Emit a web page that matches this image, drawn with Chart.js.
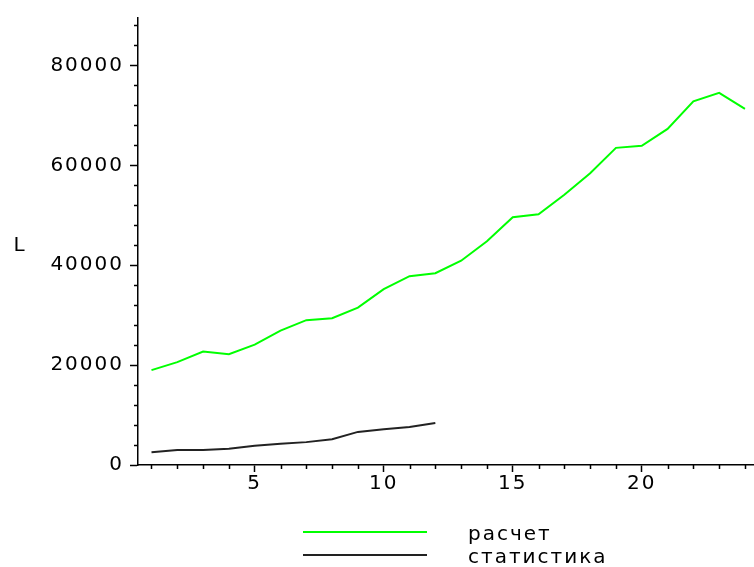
<!DOCTYPE html>
<html>
<head>
<meta charset="utf-8">
<script src="https://cdn.jsdelivr.net/npm/chart.js@4"></script>
<style>body{margin:0;background:#fff}</style>
</head>
<body>
<canvas id="grafico" width="754" height="567"></canvas>
<script>
// values
const periods = [1,2,3,4,5,6,7,8,9,10,11,12,13,14,15,16,17,18,19,20,21,22,23,24];
const calc = [19000,20600,22700,22200,24100,26900,29000,29400,31500,35200,37800,38400,
              40900,44800,49600,50200,54100,58400,63500,63900,67300,72800,74500,71300];
const stats = [2550,3000,3000,3250,3850,4250,4580,5150,6630,7160,7630,8420];
const seriesNames = ['расчет', 'статистика'];
const yTitle = 'L';
const yTicks = [0,4000,8000,12000,16000,20000,24000,28000,32000,36000,40000,44000,
                48000,52000,56000,60000,64000,68000,72000,76000,80000,84000,88000];

const fuente = '20px "DejaVu Sans"';

function toPoints(vals){
    return vals.map((v, i) => ({x: periods[i], y: v}));
}

const extras = {
    id: 'extras',
    beforeUpdate(chart){ chart.ctx.letterSpacing = '2px'; },
    beforeDraw(chart){ chart.ctx.letterSpacing = '2px'; },
    afterDraw(chart){
        const ctx = chart.ctx, area = chart.chartArea;
        const sx = chart.scales.x, sy = chart.scales.y;
        ctx.save();
        ctx.letterSpacing = '2px';
        /* minor ticks */
        ctx.strokeStyle = '#000';
        ctx.lineWidth = 1.5;
        ctx.beginPath();
        sx.ticks.forEach(t => {
            if (t.value % 5 !== 0) {
                const px = Math.round(sx.getPixelForValue(t.value)) + 0.5;
                ctx.moveTo(px, area.bottom);
                ctx.lineTo(px, area.bottom + 4);
            }
        });
        sy.ticks.forEach(t => {
            if (t.value % 20000 !== 0) {
                const py = Math.round(sy.getPixelForValue(t.value)) + 0.5;
                ctx.moveTo(area.left, py);
                ctx.lineTo(area.left - 4, py);
            }
        });
        ctx.stroke();
        /* y title, not rotated */
        ctx.font = fuente;
        ctx.fillStyle = '#000';
        ctx.textAlign = 'center';
        ctx.textBaseline = 'middle';
        ctx.fillText(yTitle, 20, (area.top + area.bottom) / 2 + 4);
        /* legend below, stacked */
        chart.data.datasets.forEach((ds, i) => {
            const ly = area.bottom + 67 + i * 23;
            ctx.strokeStyle = ds.borderColor;
            ctx.lineWidth = 2;
            ctx.beginPath();
            ctx.moveTo(303, ly);
            ctx.lineTo(427, ly);
            ctx.stroke();
            ctx.textAlign = 'left';
            ctx.fillText(ds.label, 468, ly + 3);
        });
        ctx.restore();
    }
};

new Chart(document.getElementById('grafico'), {
    type: 'line',
    data: {
        datasets: [{
            label: seriesNames[0],
            data: toPoints(calc),
            borderColor: '#00ff00',
            borderWidth: 2,
            pointRadius: 0,
            tension: 0
        }, {
            label: seriesNames[1],
            data: toPoints(stats),
            borderColor: '#222222',
            borderWidth: 2,
            pointRadius: 0,
            tension: 0
        }]
    },
    plugins: [extras],
    options: {
        responsive: false,
        animation: false,
        layout: {
            padding: {left: 0, top: 15, right: 0, bottom: 72}
        },
        plugins: {
            legend: {display: false},
            tooltip: {enabled: false}
        },
        scales: {
            x: {
                type: 'linear',
                min: 0.477,
                max: 24.35,
                afterFit: s => { s.height = 30; },
                afterBuildTicks: s => { s.ticks = periods.map(v => ({value: v})); },
                border: {color: '#000', width: 1.5},
                grid: {
                    drawOnChartArea: false,
                    tickLength: 7,
                    tickWidth: 1.5,
                    tickColor: c => (c.tick && c.tick.value % 5 === 0) ? '#000' : 'rgba(0,0,0,0)'
                },
                ticks: {
                    autoSkip: false,
                    maxRotation: 0,
                    padding: 0,
                    color: '#000',
                    font: {family: 'DejaVu Sans', size: 20},
                    callback: v => (v % 5 === 0) ? String(v) : ''
                }
            },
            y: {
                min: 0,
                max: 89500,
                afterFit: s => { s.width = 138; },
                afterBuildTicks: s => { s.ticks = yTicks.map(v => ({value: v})); },
                border: {color: '#000', width: 1.5},
                grid: {
                    drawOnChartArea: false,
                    tickLength: 8,
                    tickWidth: 1.5,
                    tickColor: c => (c.tick && c.tick.value % 20000 === 0) ? '#000' : 'rgba(0,0,0,0)'
                },
                ticks: {
                    autoSkip: false,
                    padding: 6,
                    color: '#000',
                    font: {family: 'DejaVu Sans', size: 20},
                    callback: v => (v % 20000 === 0) ? String(v) : ''
                }
            }
        }
    }
});
</script>
</body>
</html>
